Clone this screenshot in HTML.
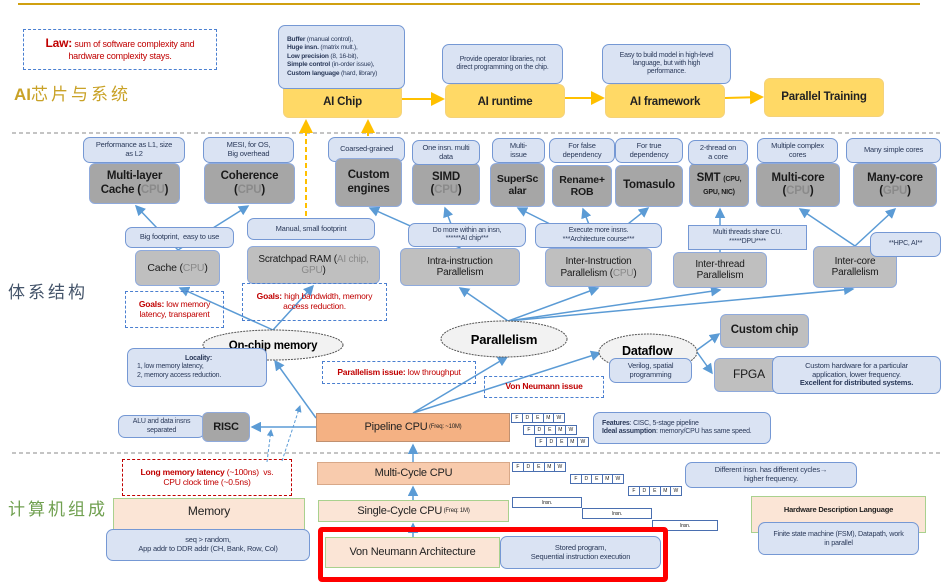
<!DOCTYPE html>
<html><head><meta charset="utf-8"><style>
*{margin:0;padding:0;box-sizing:border-box}
body{width:941px;height:586px;background:#fff;position:relative;overflow:hidden;font-family:"Liberation Sans",sans-serif;color:#222;letter-spacing:-0.2px}
.a{position:absolute;display:flex;align-items:center;justify-content:center;text-align:center;line-height:1.15;white-space:nowrap}
.bb{background:#dae3f3;border:1px solid #7598d4;border-radius:7px;font-size:7.5px;color:#2b3a5a}
.g1{background:#a6a6a6;border:1px solid #8faadc;border-radius:6px;font-size:11.5px;font-weight:bold;color:#1a1a1a}
.g2{background:#bfbfbf;border:1px solid #8faadc;border-radius:6px;font-size:10.5px;color:#1a1a1a}
.y{background:#ffd966;border:1px solid #f4d27a;border-radius:6px;font-size:11.5px;font-weight:bold;color:#222}
.dr{border:1px dashed #4a7fd0;color:#c00000;font-size:9px;background:transparent}
.c{color:#8a8a8a}
.cn{position:absolute;font-family:"Liberation Sans","Noto Sans CJK SC",sans-serif;font-size:17px;letter-spacing:3px}
.p{position:absolute;display:flex}
.p span{width:11.5px;height:10px;border:1px solid #4a6fb0;font-size:5px;display:flex;align-items:center;justify-content:center;background:#fff;margin-right:-1px}
.ins{position:absolute;border:1px solid #4a6fb0;font-size:5px;display:flex;align-items:center;justify-content:center;background:#fff}
</style></head><body>
<div style="position:absolute;left:18px;top:3px;width:902px;height:2px;background:#d0a010"></div>
<svg width="941" height="586" style="position:absolute;left:0;top:0">
<defs>
<marker id="ab" markerWidth="7" markerHeight="7" refX="6" refY="3.5" orient="auto"><path d="M0,0L7,3.5L0,7z" fill="#5b9bd5"/></marker>
<marker id="ay" markerWidth="7" markerHeight="7" refX="6" refY="3.5" orient="auto"><path d="M0,0L7,3.5L0,7z" fill="#ffc000"/></marker>
</defs>
<line x1="12" y1="133" x2="941" y2="133" stroke="#888" stroke-dasharray="4,3"/>
<line x1="12" y1="453" x2="941" y2="453" stroke="#888" stroke-dasharray="4,3"/>
<g stroke="#ffc000" stroke-width="2" fill="none">
<line x1="402" y1="99" x2="443" y2="99" marker-end="url(#ay)"/>
<line x1="565" y1="98" x2="603" y2="98" marker-end="url(#ay)"/>
<line x1="725" y1="98" x2="762" y2="97" marker-end="url(#ay)"/>
<line x1="306" y1="240" x2="306" y2="121" stroke-dasharray="5,3" marker-end="url(#ay)"/>
<line x1="368" y1="160" x2="368" y2="121" stroke-dasharray="5,3" marker-end="url(#ay)"/>
</g>
<g stroke="#5b9bd5" stroke-width="1.5" fill="none" marker-end="url(#ab)">
<line x1="178" y1="250" x2="136" y2="206"/>
<line x1="178" y1="250" x2="248" y2="206"/>
<line x1="273" y1="330" x2="180" y2="288"/>
<line x1="273" y1="330" x2="313" y2="286"/>
<line x1="316" y1="418" x2="275" y2="361"/>
<line x1="413" y1="413" x2="507" y2="357"/>
<line x1="413" y1="413" x2="600" y2="353"/>
<line x1="508" y1="321" x2="460" y2="288"/>
<line x1="508" y1="321" x2="598" y2="288"/>
<line x1="508" y1="321" x2="720" y2="290"/>
<line x1="508" y1="321" x2="853" y2="289"/>
<line x1="460" y1="248" x2="370" y2="208"/>
<line x1="460" y1="248" x2="445" y2="208"/>
<line x1="598" y1="248" x2="518" y2="208"/>
<line x1="598" y1="248" x2="583" y2="209"/>
<line x1="598" y1="248" x2="648" y2="208"/>
<line x1="720" y1="252" x2="720" y2="209"/>
<line x1="855" y1="246" x2="800" y2="209"/>
<line x1="855" y1="246" x2="895" y2="209"/>
<line x1="697" y1="350" x2="719" y2="334"/>
<line x1="697" y1="352" x2="712" y2="373"/>
<line x1="316" y1="427" x2="252" y2="427"/>
<line x1="413" y1="462" x2="413" y2="445"/>
<line x1="413" y1="500" x2="413" y2="487"/>
<line x1="413" y1="538" x2="413" y2="524"/>
<line x1="282" y1="461" x2="300" y2="406" stroke-dasharray="3,2" stroke-width="1"/>
<line x1="267" y1="462" x2="271" y2="430" stroke-dasharray="3,2" stroke-width="1"/>
</g>
<ellipse cx="273" cy="345" rx="70" ry="15" fill="#f2f2f2" stroke="#555" stroke-dasharray="2,1"/>
<ellipse cx="504" cy="339" rx="63" ry="18" fill="#f2f2f2" stroke="#555" stroke-dasharray="2,1"/>
<ellipse cx="648" cy="352" rx="49" ry="18" fill="#f2f2f2" stroke="#555" stroke-dasharray="2,1"/>
<text x="273" y="349" font-size="11.5" font-weight="bold" text-anchor="middle" font-family="Liberation Sans,sans-serif">On-chip memory</text>
<text x="504" y="344" font-size="13" font-weight="bold" text-anchor="middle" font-family="Liberation Sans,sans-serif">Parallelism</text>
<text x="622" y="355" font-size="12.5" font-weight="bold" font-family="Liberation Sans,sans-serif">Dataflow</text>
</svg>

<div class="a dr" style="left:23px;top:29px;width:194px;height:41px;font-size:9px"><div><b style="font-size:12px">Law:</b> sum of software complexity and<br>hardware complexity stays.</div></div>
<div class="cn" style="left:14px;top:80px;color:#c9a227"><b style="letter-spacing:0">AI</b>芯片与系统</div>
<div class="cn" style="left:8px;top:278px;color:#44546a">体系结构</div>
<div class="cn" style="left:8px;top:495px;color:#70a050">计算机组成</div>

<div class="a y" style="left:283px;top:84px;width:119px;height:34px;padding-top:4px">AI Chip</div>
<div class="a bb" style="left:278px;top:25px;width:127px;height:64px;justify-content:flex-start;text-align:left;padding-left:8px;font-size:6.6px;line-height:1.3"><div><b>Buffer</b> (manual control),<br><b>Huge insn.</b> (matrix mult.),<br><b>Low precision</b> (8, 16-bit),<br><b>Simple control</b> (in-order issue),<br><b>Custom language</b> (hard, library)</div></div>
<div class="a y" style="left:445px;top:84px;width:120px;height:34px;padding-top:4px">AI runtime</div>
<div class="a bb" style="left:442px;top:44px;width:121px;height:40px;font-size:7px"><div>Provide operator libraries, not<br>direct programming on the chip.</div></div>
<div class="a y" style="left:605px;top:84px;width:120px;height:34px;padding-top:4px">AI framework</div>
<div class="a bb" style="left:602px;top:44px;width:129px;height:40px;font-size:7px"><div>Easy to build model in high-level<br>language, but with high<br>performance.</div></div>
<div class="a y" style="left:764px;top:78px;width:120px;height:39px">Parallel Training</div>

<div class="a g1" style="left:89px;top:163px;width:91px;height:41px"><div>Multi-layer<br>Cache (<span class="c">CPU</span>)</div></div>
<div class="a bb" style="left:83px;top:137px;width:102px;height:26px"><div>Performance as L1, size<br>as L2</div></div>
<div class="a g1" style="left:204px;top:163px;width:91px;height:41px"><div>Coherence<br>(<span class="c">CPU</span>)</div></div>
<div class="a bb" style="left:203px;top:137px;width:91px;height:26px"><div>MESI, for OS,<br>Big overhead</div></div>
<div class="a bb" style="left:328px;top:137px;width:77px;height:25px">Coarsed-grained</div>
<div class="a g1" style="left:335px;top:158px;width:67px;height:49px"><div>Custom<br>engines</div></div>
<div class="a g1" style="left:412px;top:163px;width:68px;height:42px"><div>SIMD<br>(<span class="c">CPU</span>)</div></div>
<div class="a bb" style="left:412px;top:140px;width:68px;height:25px"><div>One insn. multi<br>data</div></div>
<div class="a g1" style="left:490px;top:163px;width:55px;height:44px;font-size:10.5px"><div>SuperSc<br>alar</div></div>
<div class="a bb" style="left:492px;top:138px;width:53px;height:25px"><div>Multi-<br>issue</div></div>
<div class="a g1" style="left:552px;top:165px;width:60px;height:42px;font-size:10.5px"><div>Rename+<br>ROB</div></div>
<div class="a bb" style="left:549px;top:138px;width:66px;height:25px"><div>For false<br>dependency</div></div>
<div class="a g1" style="left:615px;top:165px;width:68px;height:42px">Tomasulo</div>
<div class="a bb" style="left:615px;top:138px;width:68px;height:25px"><div>For true<br>dependency</div></div>
<div class="a g1" style="left:689px;top:163px;width:60px;height:44px"><div>SMT <span style="font-size:7px">(CPU,<br>GPU, NIC)</span></div></div>
<div class="a bb" style="left:688px;top:140px;width:60px;height:25px"><div>2-thread on<br>a core</div></div>
<div class="a g1" style="left:756px;top:163px;width:84px;height:44px"><div>Multi-core<br>(<span class="c">CPU</span>)</div></div>
<div class="a bb" style="left:757px;top:138px;width:81px;height:25px"><div>Multiple complex<br>cores</div></div>
<div class="a g1" style="left:853px;top:163px;width:84px;height:44px"><div>Many-core<br>(<span class="c">GPU</span>)</div></div>
<div class="a bb" style="left:846px;top:138px;width:95px;height:25px">Many simple cores</div>

<div class="a bb" style="left:125px;top:227px;width:109px;height:21px">Big footprint,&nbsp; easy to use</div>
<div class="a g2" style="left:135px;top:250px;width:85px;height:36px">Cache (<span class="c">CPU</span>)</div>
<div class="a bb" style="left:247px;top:218px;width:128px;height:22px">Manual, small footprint</div>
<div class="a g2" style="left:247px;top:246px;width:133px;height:38px;font-size:10px"><div>Scratchpad RAM (<span class="c">AI chip,<br>GPU</span>)</div></div>
<div class="a dr" style="left:125px;top:291px;width:99px;height:37px;font-size:8.5px"><div><b>Goals:</b> low memory<br>latency, transparent</div></div>
<div class="a dr" style="left:242px;top:283px;width:145px;height:38px;font-size:8.5px"><div><b>Goals:</b> high bandwidth, memory<br>access reduction.</div></div>
<div class="a bb" style="left:408px;top:223px;width:118px;height:24px;font-size:7px"><div>Do more within an insn,<br>******AI chip***</div></div>
<div class="a g2" style="left:400px;top:248px;width:120px;height:38px;font-size:10px"><div>Intra-instruction<br>Parallelism</div></div>
<div class="a bb" style="left:535px;top:223px;width:127px;height:25px;font-size:7px"><div>Execute more insns.<br>***Architecture course***</div></div>
<div class="a g2" style="left:545px;top:248px;width:107px;height:39px;font-size:10px"><div>Inter-Instruction<br>Parallelism (<span class="c">CPU</span>)</div></div>
<div class="a bb" style="left:688px;top:225px;width:119px;height:25px;border-radius:0;font-size:7px"><div>Multi threads share CU.<br>*****DPU****</div></div>
<div class="a g2" style="left:673px;top:252px;width:94px;height:36px;font-size:10px"><div>Inter-thread<br>Parallelism</div></div>
<div class="a g2" style="left:813px;top:246px;width:84px;height:42px;font-size:10px"><div>Inter-core<br>Parallelism</div></div>
<div class="a bb" style="left:870px;top:232px;width:71px;height:25px;font-size:7px">**HPC, AI**</div>

<div class="a bb" style="left:127px;top:348px;width:140px;height:39px;justify-content:flex-start;text-align:left;padding-left:9px;font-size:7px"><div><b style="padding-left:48px">Locality:</b><br>1, low memory latency,<br>2, memory access reduction.</div></div>
<div class="a dr" style="left:322px;top:361px;width:154px;height:23px;font-size:8.5px"><div><b>Parallelism issue:</b> low throughput</div></div>
<div class="a dr" style="left:484px;top:376px;width:120px;height:22px;font-size:8.5px"><b>Von Neumann issue</b></div>
<div class="a bb" style="left:609px;top:358px;width:83px;height:25px;font-size:7.5px"><div>Verilog, spatial<br>programming</div></div>
<div class="a g2" style="left:720px;top:314px;width:89px;height:34px;font-size:11.5px;font-weight:bold">Custom chip</div>
<div class="a g2" style="left:714px;top:358px;width:76px;height:34px;font-size:12px;justify-content:flex-start;padding-left:18px">FPGA</div>
<div class="a bb" style="left:772px;top:356px;width:169px;height:38px;font-size:7.5px"><div>Custom hardware for a particular<br>application, lower frequency.<br><b>Excellent for distributed systems.</b></div></div>

<div class="a bb" style="left:118px;top:415px;width:87px;height:23px;font-size:7px"><div>ALU and data insns<br>separated</div></div>
<div class="a g2" style="left:202px;top:412px;width:48px;height:30px;background:#a6a6a6;font-weight:bold;font-size:11px">RISC</div>
<div class="a" style="left:316px;top:413px;width:194px;height:29px;background:#f4b183;border:1px solid #c09070;font-size:11px">Pipeline CPU <span style="font-size:6px">&nbsp;(Freq: ~10M)</span></div>
<div class="p" style="left:511px;top:413px"><span>F</span><span>D</span><span>E</span><span>M</span><span>W</span></div>
<div class="p" style="left:523px;top:425px"><span>F</span><span>D</span><span>E</span><span>M</span><span>W</span></div>
<div class="p" style="left:535px;top:437px"><span>F</span><span>D</span><span>E</span><span>M</span><span>W</span></div>
<div class="a bb" style="left:593px;top:412px;width:178px;height:32px;justify-content:flex-start;text-align:left;padding-left:8px;font-size:7px"><div><b>Features</b>: CISC, 5-stage pipeline<br><b>Ideal assumption</b>: memory/CPU has same speed.</div></div>

<div class="a" style="left:122px;top:459px;width:170px;height:37px;border:1px dashed #c00000;color:#c00000;font-size:8.5px"><div><b>Long memory latency</b> (~100ns)&nbsp; vs.<br>CPU clock time (~0.5ns)</div></div>
<div class="a" style="left:317px;top:462px;width:193px;height:23px;background:#f8cbad;border:1px solid #d8a888;font-size:11px">Multi-Cycle CPU</div>
<div class="p" style="left:512px;top:462px"><span>F</span><span>D</span><span>E</span><span>M</span><span>W</span></div>
<div class="p" style="left:570px;top:474px"><span>F</span><span>D</span><span>E</span><span>M</span><span>W</span></div>
<div class="p" style="left:628px;top:486px"><span>F</span><span>D</span><span>E</span><span>M</span><span>W</span></div>
<div class="a bb" style="left:685px;top:462px;width:172px;height:26px;font-size:7.5px"><div>Different insn. has different cycles→<br>higher frequency.</div></div>
<div class="a" style="left:318px;top:500px;width:191px;height:22px;background:#fbe5d6;border:1px solid #a9d18e;font-size:11px">Single-Cycle CPU <span style="font-size:6px">&nbsp;(Freq: 1M)</span></div>
<div class="ins" style="left:512px;top:497px;width:70px;height:11px">Insn.</div>
<div class="ins" style="left:582px;top:508px;width:70px;height:11px">Insn.</div>
<div class="ins" style="left:652px;top:520px;width:66px;height:11px">Insn.</div>
<div class="a" style="left:113px;top:498px;width:192px;height:32px;background:#fbe5d6;border:1px solid #a9d18e;font-size:12px;padding-bottom:4px">Memory</div>
<div class="a bb" style="left:106px;top:529px;width:204px;height:32px;font-size:7.5px"><div>seq &gt; random,<br>App addr to DDR addr (CH, Bank, Row, Col)</div></div>
<div class="a" style="left:751px;top:496px;width:175px;height:37px;background:#fbe5d6;border:1px solid #a9d18e;font-size:7.5px;font-weight:bold;padding-bottom:8px">Hardware Description Language</div>
<div class="a bb" style="left:758px;top:522px;width:161px;height:33px;font-size:7.2px"><div>Finite state machine (FSM), Datapath, work<br>in parallel</div></div>

<div style="position:absolute;left:318px;top:527px;width:350px;height:55px;border:5px solid #ff0000;border-radius:4px"></div>
<div class="a" style="left:325px;top:537px;width:175px;height:31px;background:#fbe5d6;border:1px solid #a9d18e;font-size:11px">Von Neumann Architecture</div>
<div class="a bb" style="left:500px;top:536px;width:161px;height:33px;font-size:7.5px"><div>Stored program,<br>Sequential instruction execution</div></div>
</body></html>
